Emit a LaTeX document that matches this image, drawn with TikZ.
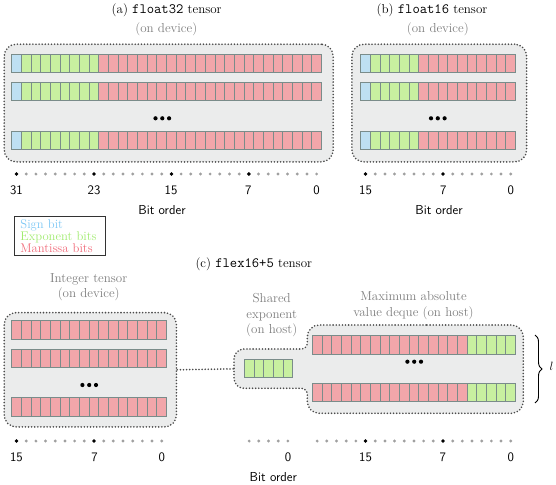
\documentclass[tikz,border=0pt]{standalone}
\usepackage{fontspec}
\usetikzlibrary{decorations.pathreplacing}
\definecolor{sgnF}{RGB}{190,224,242}
\definecolor{expF}{RGB}{200,240,160}
\definecolor{mantF}{RGB}{242,166,170}
\definecolor{cellB}{RGB}{122,140,138}
\definecolor{boxF}{RGB}{235,236,236}
\definecolor{boxB}{RGB}{75,75,75}
\definecolor{sgnT}{RGB}{125,200,245}
\definecolor{expT}{RGB}{160,235,110}
\definecolor{mantT}{RGB}{240,105,120}
\definecolor{capG}{RGB}{125,125,125}
\definecolor{dotG}{RGB}{160,160,160}
\newcommand\bitcells[4]{\foreach \k in {1,...,#3}{\draw[#4] ({#1+(\k-1)*9.68},#2) rectangle ++(9.68,18.6);}}
\newcommand\bitdots[4]{%
  \foreach \k in {1,...,#3}{\fill[dotG] ({#1+(\k-1)*9.68},#2) circle (1.6);}%
  \foreach \k in {#4}{\fill[black] ({#1+\k*9.68},#2) circle (1.9);}}
\newcommand\ellip[2]{\foreach \k in {-1,0,1}{\fill[black] ({#1+\k*6.8},#2) circle (2.1);}}
\begin{document}
\begin{tikzpicture}[x=1pt,y=-1pt,
  font=\fontsize{13}{15.5}\selectfont,
  sgncell/.style={fill=sgnF,draw=cellB,line width=0.9pt},
  expcell/.style={fill=expF,draw=cellB,line width=0.9pt},
  mantcell/.style={fill=mantF,draw=cellB,line width=0.9pt},
  dotline/.style={draw=boxB,line width=1.8pt,line cap=round,dash pattern=on 0pt off 3.1pt},
  tensorbox/.style={fill=boxF,dotline,rounded corners=12pt,inner sep=0pt,anchor=north west},
  caption/.style={text=capG,align=center},
  title/.style={text=black},
  num/.style={font=\fontsize{13}{15.5}\sffamily}
]
\useasboundingbox (0,0) rectangle (556,484);

% ---------- (a) float32 ----------
\node[title] (ta) at (166.7,10.5) {(a) {\fontsize{14.2}{16}\ttfamily float32} tensor};
\node[caption] (ca) at (166.3,29) {(on device)};
\node[tensorbox,minimum width=329pt,minimum height=117.7pt] (boxa) at (3.3,43.3) {};
\foreach \yy in {54.3,82.3,131}{
  \bitcells{11.7}{\yy}{1}{sgncell}
  \bitcells{21.38}{\yy}{8}{expcell}
  \bitcells{98.82}{\yy}{23}{mantcell}
}
\ellip{162.3}{118.3}
\bitdots{16.54}{174}{32}{0,8,16,24}
\node[num] (a31) at (16.5,190.5) {31};
\node[num] (a23) at (94,190.5) {23};
\node[num] (a15) at (171,190.5) {15};
\node[num] (a7) at (248.3,190.5) {7};
\node[num] (a0) at (316.5,190.5) {0};
\node[num] (boa) at (162,210) {Bit order};

% ---------- (b) float16 ----------
\node[title] (tb) at (432,10.5) {(b) {\fontsize{14.2}{16}\ttfamily float16} tensor};
\node[caption] (cb) at (437.8,29) {(on device)};
\node[tensorbox,minimum width=174.7pt,minimum height=117.7pt] (boxb) at (351,43.3) {};
\foreach \yy in {54.3,82.3,131}{
  \bitcells{360.7}{\yy}{1}{sgncell}
  \bitcells{370.38}{\yy}{5}{expcell}
  \bitcells{418.78}{\yy}{10}{mantcell}
}
\ellip{437.8}{118.3}
\bitdots{365.54}{174}{16}{0,8}
\node[num] (b15) at (365.5,190.5) {15};
\node[num] (b7) at (443.3,190.5) {7};
\node[num] (b0) at (510.7,190.5) {0};
\node[num] (bob) at (439,210) {Bit order};

% ---------- legend ----------
\node[draw=black!80,line width=0.8pt,anchor=north west,inner xsep=6pt,inner ysep=3.2pt,
  text width=79pt,align=left,font=\fontsize{12.6}{12.2}\selectfont] (leg) at (14,215.7)
  {\textcolor{sgnT}{Sign bit}\\\textcolor{expT}{Exponent bits}\\\textcolor{mantT}{Mantissa bits}};

% ---------- (c) flex16+5 ----------
\node[title] (tc) at (253.8,264) {(c) {\fontsize{14.2}{16}\ttfamily flex16+5} tensor};
\node[caption] (ci) at (88.7,287) {Integer tensor\\(on device)};
\node[caption] (cs) at (271.7,315.3) {Shared\\exponent\\(on host)};
\node[caption] (cd) at (413.5,305.8) {Maximum absolute\\value deque (on host)};

\node[tensorbox,minimum width=172.2pt,minimum height=114.3pt] (intbox) at (3.3,311.7) {};
\foreach \yy in {320.7,349,397.7}{
  \bitcells{11.7}{\yy}{16}{mantcell}
}
\ellip{89.2}{385}

\draw[fill=boxF,dotline]
  (415,325) [rounded corners=12pt] -- (523.3,325) -- (523.3,413.3) -- (307.3,413.3)
  [rounded corners=6pt] -- (307.3,388.3) [rounded corners=10pt] -- (234,388.3) -- (234,349)
  [rounded corners=6pt] -- (307.3,349) [rounded corners=12pt] -- (307.3,325) -- cycle;
\coordinate (expL) at (234,368.85);
\draw[dotline] (intbox.east) -- (expL);

\bitcells{244.3}{359.3}{5}{expcell}
\foreach \yy in {335.7,383.3}{
  \bitcells{312.3}{\yy}{16}{mantcell}
  \bitcells{467.18}{\yy}{5}{expcell}
}
\ellip{414.2}{361.7}

\coordinate (brT) at (535,335);
\coordinate (brB) at (535,403);
\draw[line width=0.9pt,decorate,decoration={brace,amplitude=7pt}] (brT) -- (brB);
\node (lsym) at (551.5,366) {$l$};

\bitdots{16.54}{441}{16}{0,8}
\node[num] (i15) at (16.5,457.3) {15};
\node[num] (i7) at (94.5,457.3) {7};
\node[num] (i0) at (161.7,457.3) {0};

\bitdots{249.14}{441}{5}{}
\bitdots{317.14}{441}{21}{5,13}
\node[num] (e0) at (288,457.3) {0};
\node[num] (d15) at (365.5,457.3) {15};
\node[num] (d7) at (442.8,457.3) {7};
\node[num] (d0) at (510.7,457.3) {0};
\node[num] (boc) at (273.3,476.7) {Bit order};
\end{tikzpicture}
\end{document}
